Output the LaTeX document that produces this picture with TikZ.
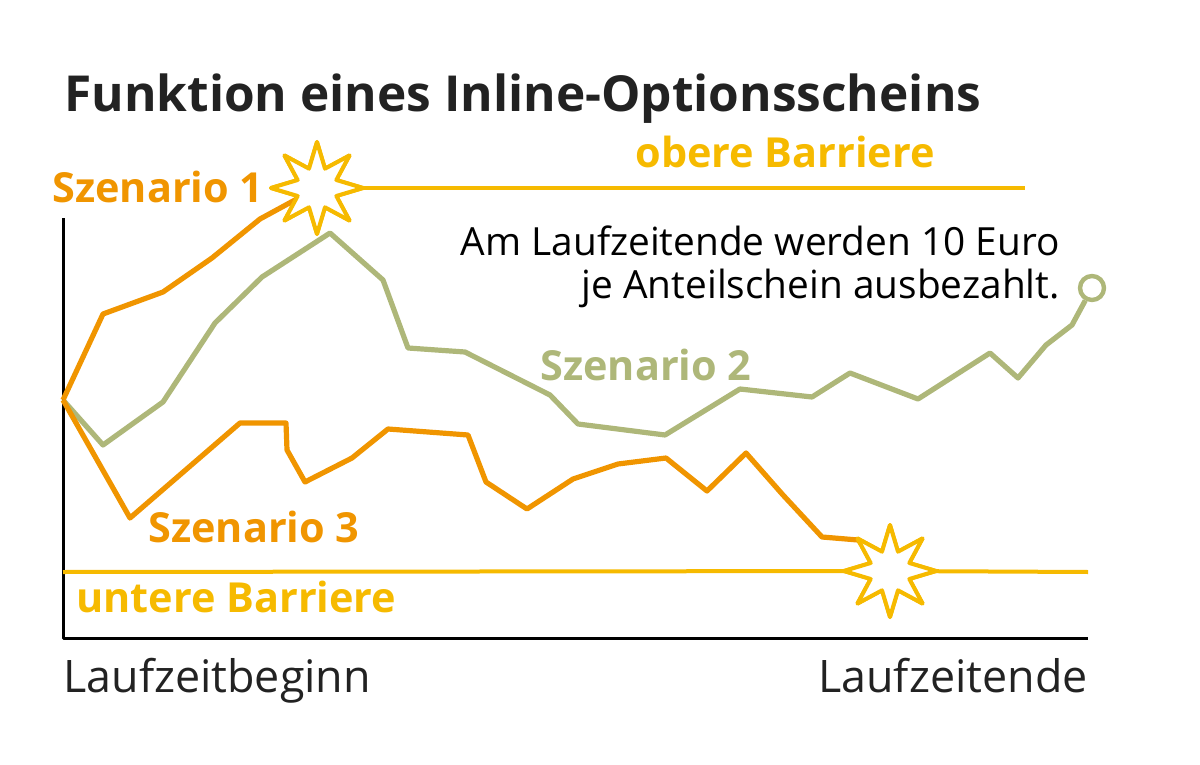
\documentclass[tikz,border=0pt]{standalone}
\usepackage{fontspec}
\setmainfont{Open Sans}
\usetikzlibrary{shapes.geometric}
\definecolor{szorange}{HTML}{F09500}
\definecolor{szgelb}{HTML}{F6BA00}
\definecolor{szgruen}{HTML}{AEB779}
\definecolor{titelgrau}{HTML}{222222}

\begin{document}
\begin{tikzpicture}[x=0.5pt,y=-0.5pt,line join=round,
    kurve/.style={line width=2.6pt},
    barriere/.style={draw=szgelb,line width=2pt},
    blitz/.style={star,star points=8,star point ratio=2.2,minimum size=46pt,inner sep=0pt,
                  draw=szgelb,fill=white,line width=2pt},
    szname/.style={inner sep=0pt,font=\bfseries\fontsize{20.7}{24}\selectfont},
    achstext/.style={inner sep=0pt,text=titelgrau,font=\fontsize{22.4}{26}\selectfont}]
    \useasboundingbox (0,0) rectangle (1200,765);

    \node[inner sep=0pt,anchor=base west,text=titelgrau,font=\bfseries\fontsize{24.8}{30}\selectfont]
        (titel) at (64,112) {Funktion eines Inline-Optionsscheins};

    % Achsen
    \coordinate (start) at (63,400);
    \coordinate (oben) at (63,218);
    \coordinate (ursprung) at (63,638);
    \coordinate (rechts) at (1088,638);
    \draw[line width=1.5pt] (oben) -- (ursprung) -- (rechts);

    % Barrieren
    \node[blitz] (blitz1) at (317,188) {};
    \node[blitz] (blitz3) at (890,571) {};
    \coordinate (obenende) at (1025,188);
    \coordinate (untenstart) at (63,572);
    \coordinate (untenende) at (1088,572);
    \draw[barriere] (blitz1.center) -- (obenende);
    \draw[barriere] (untenstart) -- (blitz3.center) -- (untenende);

    % Szenario 2
    \node[circle,draw=szgruen,fill=white,line width=2.2pt,minimum size=12pt,inner sep=0pt]
        (ende) at (1092,288) {};
    \draw[kurve,szgruen] (start) -- (103,445) -- (163,402) -- (215,323) -- (262,277) -- (330,233)
        -- (383,280) -- (408,348) -- (465,352) -- (550,395) -- (578,424) -- (665,435)
        -- (740,389) -- (812,397) -- (850,373) -- (918,399) -- (990,353) -- (1018,378)
        -- (1046,345) -- (1072,325) -- (ende);

    % Szenario 1 und 3
    \draw[kurve,szorange] (start) -- (103,314) -- (163,292) -- (212,258) -- (260,219) -- (blitz1.center);
    \draw[kurve,szorange] (start) -- (130,518) -- (240,423) -- (286,423) -- (287,450) -- (305,482)
        -- (352,458) -- (388,429) -- (468,435) -- (486,482) -- (527,509) -- (573,479)
        -- (618,464) -- (666,458) -- (707,491) -- (746,453) -- (783,495) -- (822,537)
        -- (858,540) -- (blitz3.center);
    \node[blitz] at (blitz1) {};
    \node[blitz] at (blitz3) {};

    \node[szname,text=szorange,anchor=base west] (sz1) at (52,202) {Szenario 1};
    \node[szname,text=szgelb,anchor=base west] (obere) at (635,168) {obere Barriere};
    \node[szname,text=szgruen,anchor=base west] (sz2) at (540,380) {Szenario 2};
    \node[szname,text=szorange,anchor=base west] (sz3) at (148,542) {Szenario 3};
    \node[szname,text=szgelb,anchor=base west] (untere) at (76,612) {untere Barriere};

    \node[achstext,text=black,anchor=base east,font=\fontsize{19.4}{24}\selectfont]
        (hinweis1) at (1060,256) {Am Laufzeitende werden 10 Euro};
    \node[achstext,text=black,anchor=base east,font=\fontsize{19.4}{24}\selectfont]
        (hinweis2) at (1060,298) {je Anteilschein ausbezahlt.};
    \node[achstext,anchor=base west] (beginn) at (63,692) {Laufzeitbeginn};
    \node[achstext,anchor=base east] (endetext) at (1088,692) {Laufzeitende};
\end{tikzpicture}
\end{document}
